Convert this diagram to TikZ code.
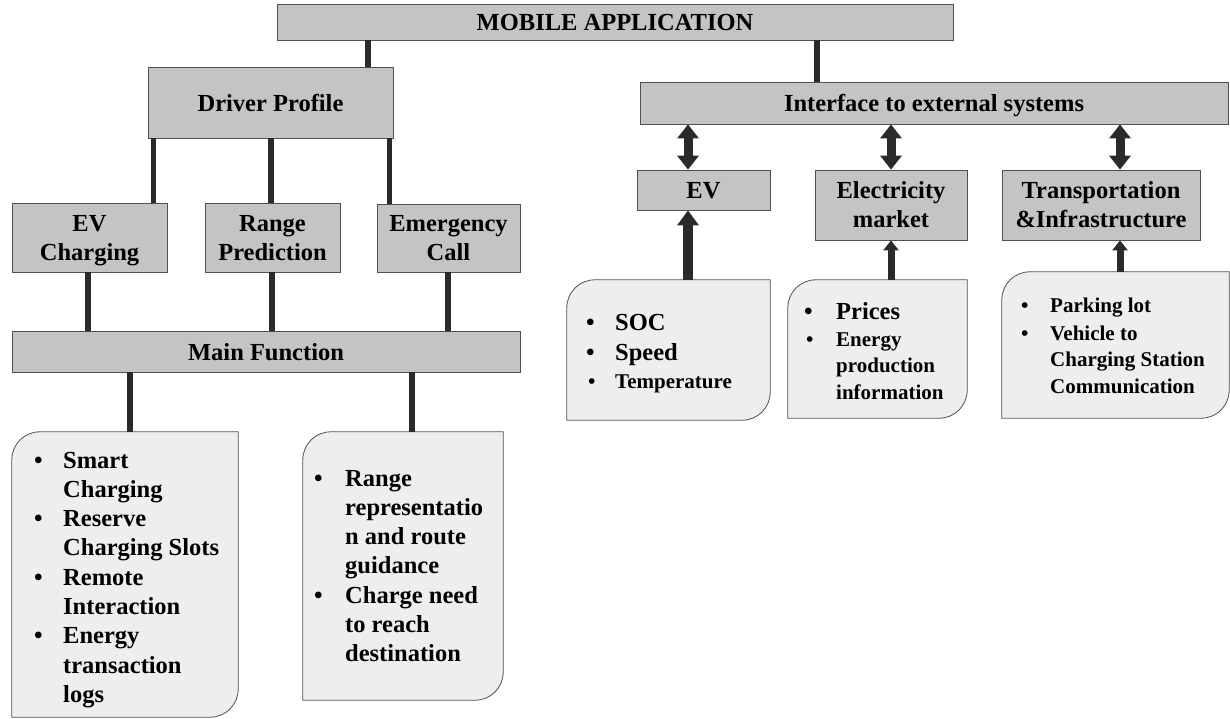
\documentclass[tikz,border=0pt]{standalone}
\usepackage{fontspec}
\setmainfont{Liberation Serif}
\usetikzlibrary{arrows.meta,calc}

\definecolor{boxgray}{RGB}{196,196,196}
\definecolor{notegray}{RGB}{238,238,238}
\definecolor{edgegray}{RGB}{80,80,80}
\definecolor{linkgray}{RGB}{42,42,42}

% bullet set in a box of fixed width, so that the text after it hangs
\newcommand\bul[1]{\makebox[#1][l]{\textbullet}}
% outline of a note: top-left and bottom-right corners rounded
\newcommand\drawnote[1]{%
  \draw[noteline] (#1.south west) -- ([yshift=-28pt]#1.north west)
    .. controls ([yshift=-12.5pt]#1.north west) and ([xshift=12.5pt]#1.north west) ..
    ([xshift=28pt]#1.north west) -- (#1.north east) -- ([yshift=28pt]#1.south east)
    .. controls ([yshift=12.5pt]#1.south east) and ([xshift=-12.5pt]#1.south east) ..
    ([xshift=-28pt]#1.south east) -- cycle;}

\begin{document}
\begin{tikzpicture}[x=1pt,y=-1pt,
  box/.style={draw=edgegray, line width=0.8pt, fill=boxgray, inner sep=0pt,
    text depth=0pt, align=center, font=\bfseries\fontsize{24.5}{29}\selectfont},
  noteframe/.style={draw=none, inner sep=0pt},
  noteline/.style={draw=edgegray, line width=0.8pt, fill=notegray},
  biglist/.style={anchor=base west, inner sep=0pt, font=\bfseries\fontsize{24.5}{29.3}\selectfont},
  smalllist/.style={anchor=base west, inner sep=0pt, font=\bfseries\fontsize{21}{26.5}\selectfont},
  conn/.style={draw=linkgray, line width=5.5pt},
  dbl/.style={draw=linkgray, line width=9pt,
    {Triangle[width=21pt,length=14pt]}-{Triangle[width=21pt,length=14pt]}},
  uparrow/.style={draw=linkgray, line width=10pt, -{Triangle[width=21pt,length=15pt]}},
  thinup/.style={draw=linkgray, line width=7pt, -{Triangle[width=15pt,length=10pt]}},
]
\useasboundingbox (0,0) rectangle (1230,719);

% ---- top level
\node[box, minimum width=676pt, minimum height=36pt] (mobile) at (615,22) {MOBILE APPLICATION};

% ---- driver side
\node[box, minimum width=245pt, minimum height=71pt] (dp) at (270.5,102.5) {Driver Profile};
\node[box, minimum width=155pt, minimum height=69pt] (evc) at (89.5,237.5) {EV\\Charging};
\node[box, minimum width=135pt, minimum height=69pt] (rp) at (272.5,237.5) {Range\\Prediction};
\node[box, minimum width=143pt, minimum height=68pt] (ec) at (448.5,238) {Emergency\\Call};
\node[box, minimum width=508pt, minimum height=41pt] (mf) at (266,351.5) {Main Function};

% ---- external systems side
\node[box, minimum width=588pt, minimum height=42pt] (iface) at (934,103) {Interface to external systems};
\node[box, minimum width=133pt, minimum height=40pt] (ev) at (703.5,190) {EV};
\node[box, minimum width=152pt, minimum height=70pt] (elm) at (891,205) {Electricity\\market};
\node[box, minimum width=198pt, minimum height=70pt] (tri) at (1101,205) {Transportation\\\&Infrastructure};

% ---- note frames
\node[noteframe, minimum width=203pt, minimum height=140pt] (socbox) at (668.5,350) {};
\node[noteframe, minimum width=179pt, minimum height=138pt] (pricebox) at (877.5,349) {};
\node[noteframe, minimum width=227pt, minimum height=146pt] (parkbox) at (1115.5,345) {};
\node[noteframe, minimum width=226pt, minimum height=285pt] (smartbox) at (125,574.5) {};
\node[noteframe, minimum width=200pt, minimum height=268pt] (rangebox) at (403,566) {};
\drawnote{socbox}
\drawnote{pricebox}
\drawnote{parkbox}
\drawnote{smartbox}
\drawnote{rangebox}

% ---- connectors
\draw[conn] ([xshift=97.5pt]dp.north) -- ([xshift=97.5pt]dp.north |- mobile.south);
\draw[conn] ([xshift=-117pt]iface.north) -- ([xshift=-117pt]iface.north |- mobile.south);
\draw[conn] (dp.south -| evc.north east) ++(-14pt,0) coordinate (d1) -- (d1 |- evc.north);
\draw[conn] (dp.south -| rp.north) ++(-1.5pt,0) coordinate (d2) -- (d2 |- rp.north);
\draw[conn] (dp.south -| ec.north west) ++(13pt,0) coordinate (d3) -- (d3 |- ec.north);
\draw[conn] ([xshift=-1.5pt]evc.south) -- ([xshift=-1.5pt]evc.south |- mf.north);
\draw[conn] ([xshift=-0.5pt]rp.south) -- ([xshift=-0.5pt]rp.south |- mf.north);
\draw[conn] ([xshift=-0.5pt]ec.south) -- ([xshift=-0.5pt]ec.south |- mf.north);
\draw[conn] ([xshift=5pt]smartbox.north) -- ([xshift=5pt]smartbox.north |- mf.south);
\draw[conn] ([xshift=9pt]rangebox.north) -- ([xshift=9pt]rangebox.north |- mf.south);

% ---- arrows between the interface and the systems
\draw[dbl] ([xshift=-15.5pt]ev.north |- iface.south) -- ([xshift=-15.5pt]ev.north);
\draw[dbl] ([xshift=0pt]elm.north |- iface.south) -- ([xshift=0pt]elm.north);
\draw[dbl] ([xshift=19pt]tri.north |- iface.south) -- ([xshift=19pt]tri.north);
\draw[uparrow] ([xshift=-15.5pt]ev.south |- socbox.north) -- ([xshift=-15.5pt]ev.south);
\draw[thinup] (elm.south |- pricebox.north) -- (elm.south);
\draw[thinup] ([xshift=19pt]tri.south |- parkbox.north) -- ([xshift=19pt]tri.south);

% ---- note texts
\node[biglist] (smartlist) at (34,468) {\begin{tabular}[t]{@{}l@{}l@{}}
  \bul{29pt} & Smart\\ & Charging\\
  \bul{29pt} & Reserve\\ & Charging Slots\\
  \bul{29pt} & Remote\\ & Interaction\\
  \bul{29pt} & Energy\\ & transaction\\ & logs
  \end{tabular}};
\node[biglist] (rangelist) at (314,486) {\begin{tabular}[t]{@{}l@{}l@{}}
  \bul{31pt} & Range\\ & representatio\\ & n and route\\ & guidance\\
  \bul{31pt} & Charge need\\ & to reach\\ & destination
  \end{tabular}};

\node[biglist] (soc) at (586,330) {\bul{29pt}SOC};
\node[biglist] (speed) at (586,360) {\bul{29pt}Speed};
\node[smalllist] (temp) at (588,388) {\bul{27pt}Temperature};

\node[biglist] (prices) at (804,319) {\bul{32pt}Prices};
\node[smalllist] (energy) at (806,346) {\begin{tabular}[t]{@{}l@{}l@{}}
  \bul{30pt} & Energy\\ & production\\ & information
  \end{tabular}};

\node[smalllist] (parking) at (1021,312) {\bul{29pt}Parking lot};
\node[smalllist] (vehicle) at (1021,340) {\begin{tabular}[t]{@{}l@{}l@{}}
  \bul{29pt} & Vehicle to\\ & Charging Station\\ & Communication
  \end{tabular}};
\end{tikzpicture}
\end{document}
